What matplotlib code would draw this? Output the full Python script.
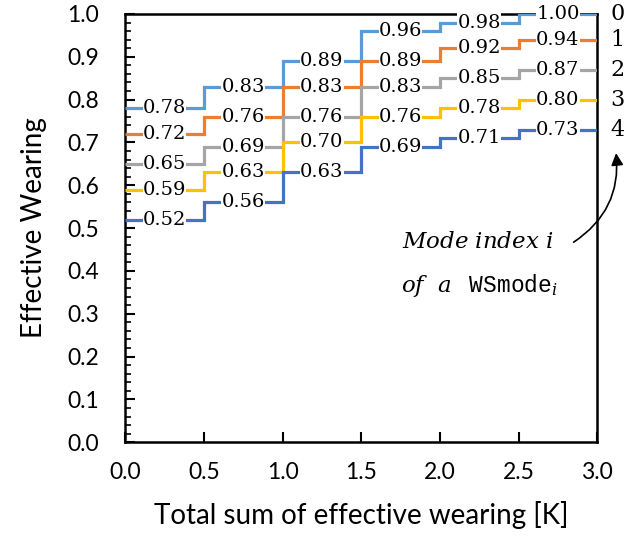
import matplotlib
matplotlib.use("Agg")
import matplotlib.pyplot as plt
from matplotlib.ticker import MultipleLocator

# Дані: межі сходинок та значення для кожного режиму
x_edges = [0.0, 0.5, 1.0, 1.5, 2.0, 2.5, 3.0]
mode_names = ["0", "1", "2", "3", "4"]
mode_values = {
    "0": [0.78, 0.83, 0.89, 0.96, 0.98, 1.00],
    "1": [0.72, 0.76, 0.83, 0.89, 0.92, 0.94],
    "2": [0.65, 0.69, 0.76, 0.83, 0.85, 0.87],
    "3": [0.59, 0.63, 0.70, 0.76, 0.78, 0.80],
    "4": [0.52, 0.56, 0.63, 0.69, 0.71, 0.73],
}
colors = ["#5B9BD5", "#ED7D31", "#A5A5A5", "#FFC000", "#4472C4"]

plt.rcParams["font.family"] = ["Lato", "DejaVu Sans"]
plt.rcParams["mathtext.fontset"] = "custom"
plt.rcParams["mathtext.it"] = "DejaVu Serif:italic"
plt.rcParams["mathtext.rm"] = "DejaVu Serif"
plt.rcParams["mathtext.tt"] = "Liberation Mono"

fig = plt.figure(figsize=(6.26, 5.36), dpi=100)
ax = fig.add_axes([0.2, 0.175, 0.754, 0.799])

for name, color in zip(mode_names, colors):
    vals = mode_values[name]
    ax.stairs(vals, x_edges, color=color, linewidth=2.3, baseline=None, zorder=2)
    for i, v in enumerate(vals):
        xc = (x_edges[i] + x_edges[i + 1]) / 2
        ax.text(xc, v, f"{v:.2f}", ha="center", va="center", fontsize=14,
                family="DejaVu Serif", zorder=3,
                bbox=dict(facecolor="white", edgecolor="none", pad=0.1))
    # номер режиму праворуч від осі
    ax.text(3.085, vals[-1], name, ha="left", va="center", fontsize=16,
            family="DejaVu Serif", clip_on=False)

ax.set_xlim(0, 3.0)
ax.set_ylim(0, 1.0)
ax.xaxis.set_major_locator(MultipleLocator(0.5))
ax.yaxis.set_major_locator(MultipleLocator(0.1))
ax.yaxis.set_minor_locator(MultipleLocator(0.02))
ax.xaxis.set_major_formatter(plt.FormatStrFormatter("%.1f"))
ax.yaxis.set_major_formatter(plt.FormatStrFormatter("%.1f"))
ax.tick_params(axis="both", which="major", direction="in", length=7, width=1.5,
               labelsize=16.5)
ax.tick_params(axis="y", which="minor", direction="in", length=4, width=1.2)
ax.tick_params(axis="x", pad=14)
ax.tick_params(axis="y", pad=19)
for s in ax.spines.values():
    s.set_linewidth(1.8)
    s.set_zorder(1)

ax.set_xlabel("Total sum of effective wearing [K]", fontsize=20, labelpad=13)
ax.set_ylabel("Effective Wearing", fontsize=20, labelpad=14)

# Підпис та стрілка
ax.text(2.24, 0.468, r"$Mode\ index\ i$", ha="center", va="center", fontsize=16.5)
ax.text(2.25, 0.365, r"$of\ \ a$   $\mathtt{WSmode}_{i}$", ha="center",
        va="center", fontsize=16.5)
ax.annotate("", xy=(3.12, 0.675), xytext=(2.85, 0.467), xycoords="data",
            annotation_clip=False,
            arrowprops=dict(arrowstyle="-|>", color="black", lw=1.2,
                            mutation_scale=18, shrinkA=0, shrinkB=0,
                            connectionstyle="arc3,rad=0.3"))

fig.savefig("out.png", dpi=100)
